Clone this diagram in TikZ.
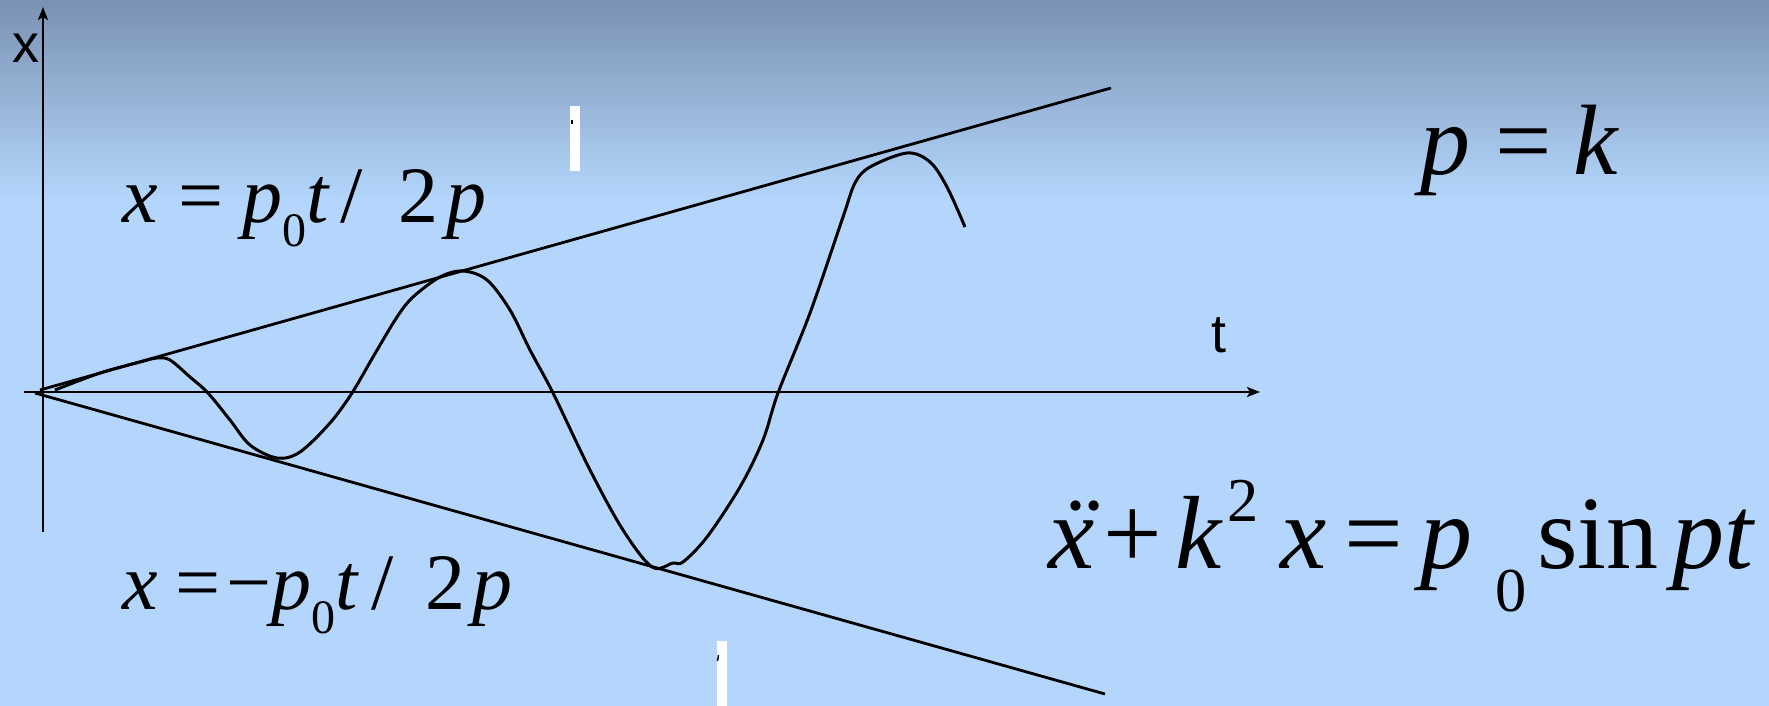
\documentclass[tikz,border=0pt]{standalone}
\usepackage{fontspec}
\usepackage{graphicx}
\setmainfont{Liberation Serif}
\newfontfamily\axfont{Liberation Sans}
\usetikzlibrary{arrows.meta}
\definecolor{bgtop}{HTML}{7A92B3}
\definecolor{bgmain}{HTML}{B4D6FC}
\newcommand\mysub[1]{\raisebox{-0.3em}{\scalebox{0.6}{#1}}}
\newcommand\mylowsub[1]{\raisebox{-0.42em}{\scalebox{0.6}{#1}}}
\newcommand\mysup[1]{\raisebox{0.45em}{\scalebox{0.6}{#1}}}
\newcommand\vi[1]{\textit{#1}}
\newcommand\xddot{{\itshape\ooalign{x\cr\hidewidth\kern0.12em ¨\hidewidth\cr}}}
\begin{document}
\begin{tikzpicture}[x=1pt,y=-1pt,
  ax/.style={line width=2.6pt,-{Stealth[length=13pt,width=10pt,inset=3pt]}},
  ln/.style={line width=2.8pt},
  crv/.style={line width=3pt,line join=round},
  eq/.style={inner sep=0pt,anchor=base west}]
\useasboundingbox (0,0) rectangle (1769,706);
\fill[bgmain] (0,0) rectangle (1769,706);
\shade[top color=bgtop,bottom color=bgmain] (0,0) rectangle (1769,200);
% axes and envelope lines
\coordinate (yb) at (43,532); \coordinate (yt) at (43,7);
\coordinate (xl) at (24,392); \coordinate (xr) at (1260,392);
\coordinate (O1) at (40,390); \coordinate (U) at (1111,88);
\coordinate (O2) at (35,393); \coordinate (L) at (1105,694);
\draw[ax] (yb) -- (yt);
\draw[ax] (xl) -- (xr);
\draw[ln] (O1) -- (U);
\draw[ln] (O2) -- (L);
% oscillation curve
\draw[crv] plot[smooth,tension=0.55] coordinates {
 (55,390) (100,373) (140,362) (157,358) (170,360) (190,377) (208,393)
 (230,420) (250,445) (277,458) (300,452) (330,423) (352,393) (373,357)
 (397,317) (413,297) (440,277) (463,271) (487,280) (510,310) (530,350)
 (553,393) (590,470) (623,530) (652,567) (673,563) (683,562) (707,537)
 (740,487) (763,440) (778,393) (810,313) (843,217) (855,183) (870,167)
 (907,153) (930,162) (947,187) (965,227)};
% white bars
\fill[white] (570,106) rectangle (580,171);
\fill[black] (570.5,120) rectangle (573,124);
\fill[white] (717,641) rectangle (727,706);
\draw[black,line width=1.5pt] (718.5,655) -- (717.5,661);
% labels
\node[eq,font=\axfont\fontsize{54}{60}\selectfont] (xlab) at (12,63) {x};
\node[eq,font=\axfont\fontsize{54}{60}\selectfont] (tlab) at (1211,352) {t};
\node[eq,font=\fontsize{80}{90}\selectfont] (up) at (122,222)
 {\vi{x}\hspace{0.26em}=\hspace{0.24em}\vi{p}\mysub{0}\vi{t}\hspace{0.12em}/\hspace{0.45em}2\hspace{0.1em}\vi{p}};
\node[eq,font=\fontsize{80}{90}\selectfont] (lo) at (122,609)
 {\vi{x}\hspace{0.22em}=\hspace{0.08em}−\vi{p}\mysub{0}\vi{t}\hspace{0.15em}/\hspace{0.4em}2\hspace{0.08em}\vi{p}};
\node[eq,font=\fontsize{100}{110}\selectfont] (pk) at (1420,174)
 {\vi{p}\hspace{0.25em}=\hspace{0.22em}\vi{k}};
\node[eq,font=\fontsize{104}{114}\selectfont] (eqn) at (1048,568)
 {\xddot\hspace{0.09em}+\hspace{0.13em}\vi{k}\hspace{0.04em}\mysup{2}\hspace{0.21em}\vi{x}\hspace{0.17em}=\hspace{0.17em}\vi{p}\hspace{0.22em}\mylowsub{0}\hspace{0.1em}sin\hspace{0.13em}\vi{p}\vi{t}};
\end{tikzpicture}
\end{document}
